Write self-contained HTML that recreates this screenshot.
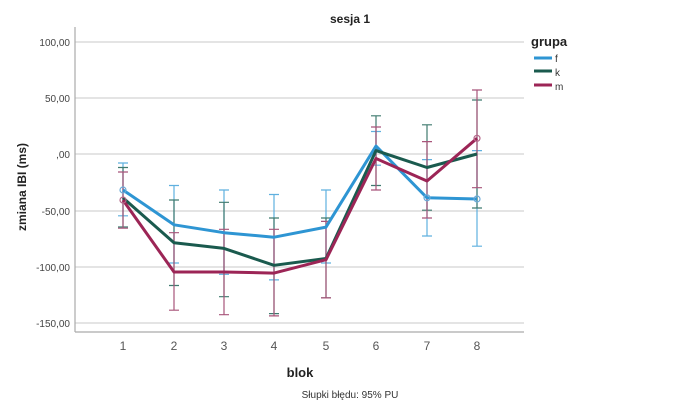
<!DOCTYPE html>
<html><head><meta charset="utf-8"><style>
body{margin:0;background:#fff;}
svg{display:block;font-family:"Liberation Sans",Arial,sans-serif;}
</style></head><body>
<svg width="700" height="413" viewBox="0 0 700 413" xmlns="http://www.w3.org/2000/svg">
<rect width="700" height="413" fill="#fff"/>
<text x="350" y="23" font-size="12" font-weight="bold" text-anchor="middle" fill="#222">sesja 1</text>
<g stroke="#d4d4d4" stroke-width="1.3">
<line x1="75" x2="524" y1="42" y2="42"/>
<line x1="75" x2="524" y1="98" y2="98"/>
<line x1="75" x2="524" y1="154" y2="154"/>
<line x1="75" x2="524" y1="211" y2="211"/>
<line x1="75" x2="524" y1="267" y2="267"/>
<line x1="75" x2="524" y1="323" y2="323"/>
</g>
<line x1="75" x2="75" y1="27" y2="332" stroke="#aaa" stroke-width="1.2"/>
<line x1="75" x2="524" y1="332" y2="332" stroke="#aaa" stroke-width="1.2"/>
<g font-size="10" fill="#444" text-anchor="end">
<text x="70" y="46">100,00</text>
<text x="70" y="102">50,00</text>
<text x="70" y="158">,00</text>
<text x="70" y="215">-50,00</text>
<text x="70" y="271">-100,00</text>
<text x="70" y="327">-150,00</text>
</g>
<g font-size="12" fill="#555" text-anchor="middle">
<text x="123" y="350">1</text><text x="174" y="350">2</text><text x="224" y="350">3</text><text x="274" y="350">4</text>
<text x="326" y="350">5</text><text x="376" y="350">6</text><text x="427" y="350">7</text><text x="477" y="350">8</text>
</g>
<text x="300" y="377" font-size="13" font-weight="bold" text-anchor="middle" fill="#222">blok</text>
<text x="26" y="187" font-size="12" font-weight="bold" text-anchor="middle" fill="#222" transform="rotate(-90 26 187)">zmiana IBI (ms)</text>
<text x="350" y="398" font-size="10" text-anchor="middle" fill="#333">Słupki błędu: 95% PU</text>
<!-- error bars -->
<g stroke="#5fb0df" stroke-width="1.2" fill="none">
<path d="M123 163V215.8M118 163h10M118 215.8h10M174 185.5V263M169 185.5h10M169 263h10M224 190V274.3M219 190h10M219 274.3h10M274 194.5V279.9M269 194.5h10M269 279.9h10M326 190V263M321 190h10M321 263h10M376 131.5V165.2M371 131.5h10M371 165.2h10M427 159.6V236M422 159.6h10M422 236h10M477 150.6V246.2M472 150.6h10M472 246.2h10"/>
</g>
<g stroke="#3f7a6f" stroke-width="1.2" fill="none">
<path d="M123 167.5V227M118 167.5h10M118 227h10M174 200V285.5M169 200h10M169 285.5h10M224 202.3V296.7M219 202.3h10M219 296.7h10M274 218V313.6M269 218h10M269 313.6h10M326 218V297.9M321 218h10M321 297.9h10M376 115.8V185.5M371 115.8h10M371 185.5h10M427 124.8V210.2M422 124.8h10M422 210.2h10M477 100V208M472 100h10M472 208h10"/>
</g>
<g stroke="#a8557a" stroke-width="1.2" fill="none">
<path d="M123 172V228.2M118 172h10M118 228.2h10M174 232.7V310.2M169 232.7h10M169 310.2h10M224 229.3V314.7M219 229.3h10M219 314.7h10M274 229.3V315.9M269 229.3h10M269 315.9h10M326 221.4V297.9M321 221.4h10M321 297.9h10M376 127V190M371 127h10M371 190h10M427 141.6V218M422 141.6h10M422 218h10M477 90V187.7M472 90h10M472 187.7h10"/>
</g>
<!-- lines -->
<polyline fill="none" stroke="#2e95d3" stroke-width="3" stroke-linejoin="round" points="123,190 174,224.8 224,232.7 274,237.2 326,227.1 376,146.1 427,197.8 477,199"/>
<polyline fill="none" stroke="#1a5a4e" stroke-width="3" stroke-linejoin="round" points="123,197.8 174,242.8 224,248.4 274,265.3 326,258.5 376,150.6 427,167.5 477,154"/>
<polyline fill="none" stroke="#9c2556" stroke-width="3" stroke-linejoin="round" points="123,200.1 174,272 224,272 274,273.1 326,259.7 376,158.5 427,181 477,138.3"/>
<g fill="none" stroke-width="1.2">
<g stroke="#6aa9d8"><circle cx="123" cy="190" r="3"/><circle cx="477" cy="199" r="3"/><circle cx="427" cy="197.8" r="3"/></g>
<g stroke="#b5678a"><circle cx="477" cy="138.3" r="3"/><circle cx="123" cy="200.1" r="3"/></g>
</g>
<!-- legend -->
<text x="531" y="46" font-size="13" font-weight="bold" fill="#222">grupa</text>
<line x1="534" x2="552" y1="58" y2="58" stroke="#2e95d3" stroke-width="3"/>
<line x1="534" x2="552" y1="71" y2="71" stroke="#1a5a4e" stroke-width="3"/>
<line x1="534" x2="552" y1="85" y2="85" stroke="#9c2556" stroke-width="3"/>
<g font-size="10" fill="#333"><text x="555" y="62">f</text><text x="555" y="76">k</text><text x="555" y="90">m</text></g>
</svg>
</body></html>
